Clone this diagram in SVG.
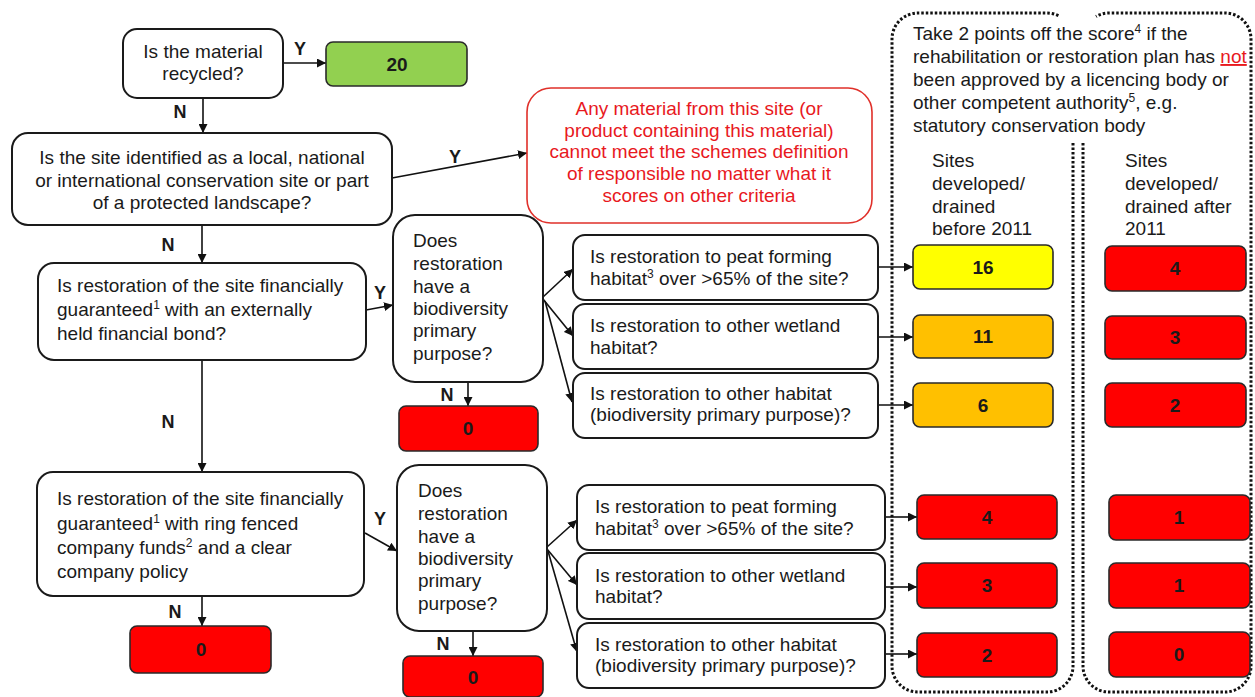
<svg xmlns="http://www.w3.org/2000/svg" width="1255" height="697" viewBox="0 0 1255 697">
  <defs>
    <marker id="arrow" viewBox="0 0 10 10" refX="10" refY="5" markerWidth="9" markerHeight="9" markerUnits="userSpaceOnUse" orient="auto">
      <path d="M0,0 L10,5 L0,10 z" fill="#111"/>
    </marker>
    <style>
      text { font-family: "Liberation Sans", Arial, sans-serif; font-size: 19px; fill: #1a1a1a; }
      .q { fill: #fff; stroke: #1a1a1a; stroke-width: 2; }
      .score { stroke: #2a2a2a; stroke-width: 1.6; }
      .red { fill: #ff0000; }
      .amber { fill: #ffc000; }
      .yellow { fill: #ffff00; }
      .green { fill: #92d050; }
      .num { font-weight: bold; text-anchor: middle; }
      .lbl { font-weight: bold; font-size: 18px; text-anchor: middle; }
      .mid { text-anchor: middle; }
      .warn { fill: #e8191e; text-anchor: middle; }
      .sup { font-size: 12px; }
      .conn line { stroke: #111; stroke-width: 1.6; marker-end: url(#arrow); }
      .dots { fill: none; stroke: #111; stroke-width: 3; stroke-dasharray: 2.5 2; }
    </style>
  </defs>

  <rect width="1255" height="697" fill="#fff"/>

  <!-- dotted columns for approval deduction -->
  <g id="deduction-panel">
    <path class="dots" d="M1073,143 V666 A26,26 0 0 1 1047,692 H918 A26,26 0 0 1 892,666 V39 A26,26 0 0 1 918,13 H1047 A26,26 0 0 1 1060,16.5"/>
    <path class="dots" d="M1083,143 V666 A26,26 0 0 0 1109,692 H1225 A26,26 0 0 0 1251,666 V39 A26,26 0 0 0 1225,13 H1109 A26,26 0 0 0 1096,16.5"/>
    <text x="913" y="40">Take 2 points off the score<tspan class="sup" baseline-shift="super">4</tspan> if the</text>
    <text x="913" y="63">rehabilitation or restoration plan has <tspan fill="#e8191e" text-decoration="underline">not</tspan></text>
    <text x="913" y="86">been approved by a licencing body or</text>
    <text x="913" y="109">other competent authority<tspan class="sup" baseline-shift="super">5</tspan>, e.g.</text>
    <text x="913" y="132">statutory conservation body</text>
    <text x="932" y="167">Sites</text>
    <text x="932" y="190">developed/</text>
    <text x="932" y="213">drained</text>
    <text x="932" y="235">before 2011</text>
    <text x="1125" y="167">Sites</text>
    <text x="1125" y="190">developed/</text>
    <text x="1125" y="213">drained after</text>
    <text x="1125" y="235">2011</text>
  </g>

  <!-- connectors -->
  <g id="connectors" class="conn">
    <line x1="283" y1="63" x2="326" y2="63"/>
    <line x1="203" y1="98" x2="203" y2="133"/>
    <line x1="392" y1="178" x2="527" y2="153"/>
    <line x1="202" y1="225" x2="202" y2="263"/>
    <line x1="366" y1="310" x2="393" y2="305"/>
    <line x1="543" y1="297" x2="573" y2="269"/>
    <line x1="543" y1="299" x2="573" y2="336"/>
    <line x1="545" y1="301" x2="572" y2="402"/>
    <line x1="468" y1="382" x2="468" y2="406"/>
    <line x1="202" y1="360" x2="202" y2="472"/>
    <line x1="365" y1="533" x2="397" y2="551"/>
    <line x1="547" y1="547" x2="577" y2="520"/>
    <line x1="547" y1="549" x2="577" y2="585"/>
    <line x1="548" y1="551" x2="577" y2="652"/>
    <line x1="473" y1="631" x2="473" y2="656"/>
    <line x1="202" y1="596" x2="202" y2="626"/>
    <line x1="878" y1="267" x2="913" y2="267"/>
    <line x1="878" y1="337" x2="913" y2="337"/>
    <line x1="878" y1="405" x2="913" y2="405"/>
    <line x1="885" y1="517" x2="917" y2="517"/>
    <line x1="885" y1="587" x2="917" y2="587"/>
    <line x1="885" y1="654" x2="917" y2="654"/>
  </g>

  <!-- branch labels -->
  <g id="branch-labels">
    <text class="lbl" x="300" y="55">Y</text>
    <text class="lbl" x="180" y="118">N</text>
    <text class="lbl" x="455" y="163">Y</text>
    <text class="lbl" x="168" y="251">N</text>
    <text class="lbl" x="380" y="299">Y</text>
    <text class="lbl" x="447" y="401">N</text>
    <text class="lbl" x="168" y="428">N</text>
    <text class="lbl" x="380" y="525">Y</text>
    <text class="lbl" x="175" y="618">N</text>
    <text class="lbl" x="443" y="650">N</text>
  </g>

  <g id="q-recycled">
    <rect class="q" x="123" y="29" width="160" height="69" rx="14"/>
    <text class="mid" x="203" y="58">Is the material</text>
    <text class="mid" x="203" y="80">recycled?</text>
  </g>
  <g id="s-recycled">
    <rect class="score green" x="326" y="42" width="141" height="44" rx="7"/>
    <text class="num" x="397" y="71">20</text>
  </g>

  <g id="q-conservation">
    <rect class="q" x="12" y="133" width="380" height="92" rx="16"/>
    <text class="mid" x="202" y="164">Is the site identified as a local, national</text>
    <text class="mid" x="202" y="187">or international conservation site or part</text>
    <text class="mid" x="202" y="209">of a protected landscape?</text>
  </g>

  <g id="excluded">
    <rect x="527" y="88" width="345" height="135" rx="24" fill="#fff" stroke="#e0302a" stroke-width="1.6"/>
    <text class="warn" x="699" y="115">Any material from this site (or</text>
    <text class="warn" x="699" y="137">product containing this material)</text>
    <text class="warn" x="699" y="158">cannot meet the schemes definition</text>
    <text class="warn" x="699" y="180">of responsible no matter what it</text>
    <text class="warn" x="699" y="202">scores on other criteria</text>
  </g>

  <g id="q-bond">
    <rect class="q" x="38" y="263" width="328" height="97" rx="16"/>
    <text x="57" y="292">Is restoration of the site financially</text>
    <text x="57" y="316">guaranteed<tspan class="sup" baseline-shift="super">1</tspan> with an externally</text>
    <text x="57" y="340">held financial bond?</text>
  </g>

  <g id="q-purpose-bond">
    <rect class="q" x="393" y="215" width="150" height="167" rx="22"/>
    <text x="413" y="247">Does</text>
    <text x="413" y="270">restoration</text>
    <text x="413" y="293">have a</text>
    <text x="413" y="315">biodiversity</text>
    <text x="413" y="337">primary</text>
    <text x="413" y="360">purpose?</text>
  </g>
  <g id="s-purpose-bond-no">
    <rect class="score red" x="399" y="406" width="139" height="45" rx="7"/>
    <text class="num" x="468" y="435">0</text>
  </g>

  <g id="q-peat-bond">
    <rect class="q" x="573" y="235" width="305" height="65" rx="12"/>
    <text x="590" y="263">Is restoration to peat forming</text>
    <text x="590" y="285">habitat<tspan class="sup" baseline-shift="super">3</tspan> over &gt;65% of the site?</text>
  </g>
  <g id="q-wetland-bond">
    <rect class="q" x="573" y="304" width="305" height="65" rx="12"/>
    <text x="590" y="332">Is restoration to other wetland</text>
    <text x="590" y="354">habitat?</text>
  </g>
  <g id="q-other-bond">
    <rect class="q" x="573" y="373" width="305" height="65" rx="12"/>
    <text x="590" y="400">Is restoration to other habitat</text>
    <text x="590" y="421">(biodiversity primary purpose)?</text>
  </g>

  <g id="s-peat-bond-before">
    <rect class="score yellow" x="913" y="245" width="140" height="44" rx="7"/>
    <text class="num" x="983" y="274">16</text>
  </g>
  <g id="s-wetland-bond-before">
    <rect class="score amber" x="913" y="315" width="140" height="43" rx="7"/>
    <text class="num" x="983" y="343">11</text>
  </g>
  <g id="s-other-bond-before">
    <rect class="score amber" x="913" y="383" width="140" height="44" rx="7"/>
    <text class="num" x="983" y="412">6</text>
  </g>
  <g id="s-peat-bond-after">
    <rect class="score red" x="1105" y="246" width="141" height="45" rx="7"/>
    <text class="num" x="1175" y="275">4</text>
  </g>
  <g id="s-wetland-bond-after">
    <rect class="score red" x="1105" y="316" width="141" height="43" rx="7"/>
    <text class="num" x="1175" y="344">3</text>
  </g>
  <g id="s-other-bond-after">
    <rect class="score red" x="1105" y="383" width="141" height="44" rx="7"/>
    <text class="num" x="1175" y="412">2</text>
  </g>

  <g id="q-ringfenced">
    <rect class="q" x="37" y="472" width="327" height="124" rx="16"/>
    <text x="57" y="505">Is restoration of the site financially</text>
    <text x="57" y="530">guaranteed<tspan class="sup" baseline-shift="super">1</tspan> with ring fenced</text>
    <text x="57" y="554">company funds<tspan class="sup" baseline-shift="super">2</tspan> and a clear</text>
    <text x="57" y="578">company policy</text>
  </g>
  <g id="s-ringfenced-no">
    <rect class="score red" x="130" y="626" width="141" height="47" rx="7"/>
    <text class="num" x="201" y="656">0</text>
  </g>

  <g id="q-purpose-ring">
    <rect class="q" x="397" y="465" width="150" height="166" rx="22"/>
    <text x="418" y="497">Does</text>
    <text x="418" y="520">restoration</text>
    <text x="418" y="543">have a</text>
    <text x="418" y="565">biodiversity</text>
    <text x="418" y="587">primary</text>
    <text x="418" y="610">purpose?</text>
  </g>
  <g id="s-purpose-ring-no">
    <rect class="score red" x="403" y="656" width="140" height="41" rx="7"/>
    <text class="num" x="473" y="684">0</text>
  </g>

  <g id="q-peat-ring">
    <rect class="q" x="577" y="485" width="308" height="65" rx="12"/>
    <text x="595" y="513">Is restoration to peat forming</text>
    <text x="595" y="535">habitat<tspan class="sup" baseline-shift="super">3</tspan> over &gt;65% of the site?</text>
  </g>
  <g id="q-wetland-ring">
    <rect class="q" x="577" y="553" width="308" height="66" rx="12"/>
    <text x="595" y="582">Is restoration to other wetland</text>
    <text x="595" y="603">habitat?</text>
  </g>
  <g id="q-other-ring">
    <rect class="q" x="577" y="623" width="308" height="65" rx="12"/>
    <text x="595" y="651">Is restoration to other habitat</text>
    <text x="595" y="672">(biodiversity primary purpose)?</text>
  </g>

  <g id="s-peat-ring-before">
    <rect class="score red" x="917" y="495" width="140" height="44" rx="7"/>
    <text class="num" x="987" y="524">4</text>
  </g>
  <g id="s-wetland-ring-before">
    <rect class="score red" x="917" y="563" width="140" height="45" rx="7"/>
    <text class="num" x="987" y="592">3</text>
  </g>
  <g id="s-other-ring-before">
    <rect class="score red" x="917" y="633" width="140" height="44" rx="7"/>
    <text class="num" x="987" y="662">2</text>
  </g>
  <g id="s-peat-ring-after">
    <rect class="score red" x="1109" y="495" width="141" height="45" rx="7"/>
    <text class="num" x="1179" y="524">1</text>
  </g>
  <g id="s-wetland-ring-after">
    <rect class="score red" x="1109" y="563" width="141" height="45" rx="7"/>
    <text class="num" x="1179" y="592">1</text>
  </g>
  <g id="s-other-ring-after">
    <rect class="score red" x="1109" y="632" width="141" height="45" rx="7"/>
    <text class="num" x="1179" y="661">0</text>
  </g>
</svg>
